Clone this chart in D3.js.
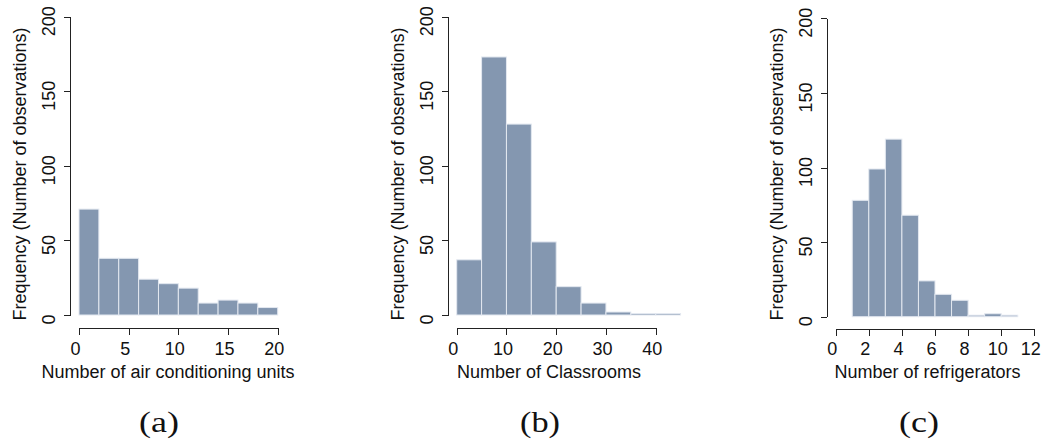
<!DOCTYPE html>
<html>
<head>
<meta charset="utf-8">
<script src="https://cdn.jsdelivr.net/npm/d3@7"></script>
<style>
  html, body { margin: 0; padding: 0; background: #fff; }
  svg { display: block; }
  .axis path, .axis line { stroke: #222; stroke-width: 1; shape-rendering: crispEdges; }
  .axis text { font-family: "Liberation Sans", Arial, sans-serif; font-size: 18px; fill: #111; }
  .title { font-family: "Liberation Sans", Arial, sans-serif; font-size: 18px; fill: #111; }
  .panel { font-family: "Liberation Serif", "Times New Roman", serif; font-size: 30px; fill: #111; }
</style>
</head>
<body>
<svg id="chart" width="1043" height="439"></svg>
<script>
// Histogram bins (left edges) and counts for each variable
const acEdges = [0, 2, 4, 6, 8, 10, 12, 14, 16, 18, 20];
const acCounts = [71, 38, 38, 24, 21, 18, 8, 10, 8, 5];

const classEdges = [0, 5, 10, 15, 20, 25, 30, 35, 40, 45];
const classCounts = [37, 173, 128, 49, 19, 8, 2, 1, 1];

const fridgeEdges = [1, 2, 3, 4, 5, 6, 7, 8, 9, 10, 11];
const fridgeCounts = [78, 99, 119, 68, 24, 15, 11, 1, 2, 1];

// Axis ticks and labels
const freqTicks = [0, 50, 100, 150, 200];
const acTicks = [0, 5, 10, 15, 20];
const classTicks = [0, 10, 20, 30, 40];
const fridgeTicks = [0, 2, 4, 6, 8, 10, 12];

const yTitle = "Frequency (Number of observations)";

const panels = [
  {
    edges: acEdges, counts: acCounts, ticks: acTicks,
    xDomain: [0, 20], xRange: [79, 277.7],
    yRange: [315, 16.7], yAxisX: 70, xAxisY: 328.3,
    xTitle: "Number of air conditioning units", xTitleX: 168,
    tag: "(a)", tagX: 159
  },
  {
    edges: classEdges, counts: classCounts, ticks: classTicks,
    xDomain: [0, 40], xRange: [456.7, 655.7],
    yRange: [315, 16.7], yAxisX: 448.3, xAxisY: 328.3,
    xTitle: "Number of Classrooms", xTitleX: 549,
    tag: "(b)", tagX: 540
  },
  {
    edges: fridgeEdges, counts: fridgeCounts, ticks: fridgeTicks,
    xDomain: [0, 12], xRange: [835.7, 1034.3],
    yRange: [316.7, 18.3], yAxisX: 827.3, xAxisY: 329,
    xTitle: "Number of refrigerators", xTitleX: 927.5,
    tag: "(c)", tagX: 919
  }
];

const svg = d3.select("#chart");

panels.forEach(p => {
  const x = d3.scaleLinear().domain(p.xDomain).range(p.xRange);
  const y = d3.scaleLinear().domain([0, 200]).range(p.yRange);
  const g = svg.append("g");

  // bars
  const bins = p.counts.map((c, i) => ({ x0: p.edges[i], x1: p.edges[i + 1], n: c }));
  g.selectAll("rect.bar")
    .data(bins)
    .join("rect")
    .attr("class", "bar")
    .attr("x", d => x(d.x0))
    .attr("width", d => x(d.x1) - x(d.x0))
    .attr("y", d => y(d.n))
    .attr("height", d => y(0) - y(d.n))
    .attr("fill", "#8497b0")
    .attr("stroke", "#e3e8f0")
    .attr("stroke-width", 1);

  // y axis with rotated labels
  const ya = g.append("g")
    .attr("class", "axis")
    .attr("transform", `translate(${p.yAxisX},0)`)
    .call(d3.axisLeft(y).tickValues(freqTicks).tickSize(6).tickSizeOuter(0).tickFormat(d3.format("d")));
  ya.selectAll("text")
    .attr("x", null).attr("dy", null)
    .attr("text-anchor", "middle")
    .attr("transform", "translate(-15,4) rotate(-90)");

  // x axis
  const xa = g.append("g")
    .attr("class", "axis")
    .attr("transform", `translate(0,${p.xAxisY})`)
    .call(d3.axisBottom(x).tickValues(p.ticks).tickSize(6.7).tickSizeOuter(0).tickFormat(d3.format("d")));
  xa.selectAll("text")
    .attr("y", 355 - p.xAxisY).attr("dy", null)
    .attr("dx", -4);

  // axis titles
  g.append("text")
    .attr("class", "title")
    .attr("text-anchor", "middle")
    .attr("transform", `translate(${p.yAxisX - 44.5},174) rotate(-90)`)
    .text(yTitle);

  g.append("text")
    .attr("class", "title")
    .attr("text-anchor", "middle")
    .attr("x", p.xTitleX)
    .attr("y", 378.3)
    .text(p.xTitle);

  // panel tag
  g.append("text")
    .attr("class", "panel")
    .attr("text-anchor", "middle")
    .attr("x", p.tagX)
    .attr("y", 432)
    .attr("textLength", 40)
    .attr("lengthAdjust", "spacingAndGlyphs")
    .text(p.tag);
});
</script>
</body>
</html>
